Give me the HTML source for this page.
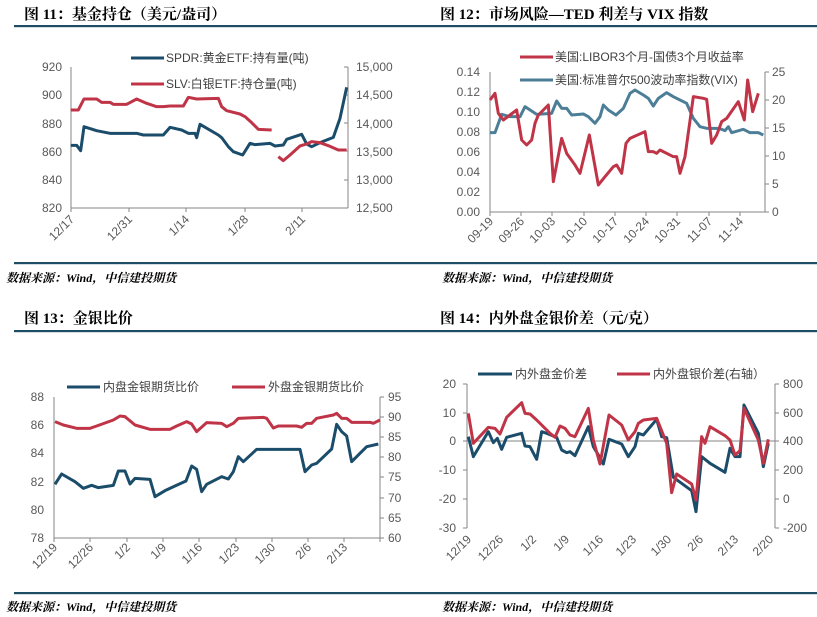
<!DOCTYPE html>
<html><head><meta charset="utf-8"><style>
html,body{margin:0;padding:0;background:#fff;}
svg{display:block;font-family:"Liberation Sans","Noto Sans CJK SC",sans-serif;}
.t{font-weight:bold;font-size:15px;fill:#000;font-family:"Liberation Serif","Noto Serif CJK SC","Noto Sans CJK SC",serif;}
.s{font-weight:bold;font-style:italic;font-size:12px;fill:#000;font-family:"Liberation Serif","Noto Serif CJK SC","Noto Sans CJK SC",serif;}
.l{font-size:12px;fill:#595959;}
.lg{font-size:12px;fill:#404040;}
.ax{stroke:#868686;stroke-width:1;fill:none;}
.b{fill:none;stroke:#1b4d6b;stroke-width:9;stroke-linejoin:round;}
.r{fill:none;stroke:#c03447;stroke-width:9;stroke-linejoin:round;}
.v{fill:none;stroke:#4d7e98;stroke-width:9;stroke-linejoin:round;}
</style></head><body>
<svg width="817" height="617" viewBox="0 0 817 617">
<!-- rules -->
<rect x="14" y="25" width="803" height="2.2" fill="#1e4d66"/>
<rect x="14" y="262" width="803" height="2.2" fill="#1e4d66"/>
<rect x="14" y="330" width="803" height="2.2" fill="#1e4d66"/>
<rect x="14" y="592" width="803" height="2.2" fill="#1e4d66"/>
<text class="t" x="24" y="19">图 11：基金持仓（美元/盎司）</text>
<text class="t" x="440" y="19">图 12：市场风险—TED 利差与 VIX 指数</text>
<text class="t" x="24" y="323">图 13：金银比价</text>
<text class="t" x="440" y="323">图 14：内外盘金银价差（元/克）</text>
<text class="s" x="6" y="282">数据来源：Wind，中信建投期货</text>
<text class="s" x="442" y="282">数据来源：Wind，中信建投期货</text>
<text class="s" x="6" y="611">数据来源：Wind，中信建投期货</text>
<text class="s" x="442" y="611">数据来源：Wind，中信建投期货</text>

<!-- Chart 11 -->
<path class="ax" d="M71 67V208H348M348 67V208M71 208v4M129 208v4M186 208v4M245 208v4M302 208v4M344 67h4M344 95h4M344 123h4M344 151h4M344 180h4M344 208h4"/>
<g class="l" text-anchor="end">
<text x="62" y="71">920</text><text x="62" y="99">900</text><text x="62" y="128">880</text><text x="62" y="156">860</text><text x="62" y="184">840</text><text x="62" y="212">820</text>
</g>
<g class="l">
<text x="356" y="71">15,000</text><text x="356" y="99">14,500</text><text x="356" y="128">14,000</text><text x="356" y="156">13,500</text><text x="356" y="184">13,000</text><text x="356" y="212">12,500</text>
</g>
<g class="l" text-anchor="end">
<text transform="translate(75,220) rotate(-45)">12/17</text>
<text transform="translate(133,220) rotate(-45)">12/31</text>
<text transform="translate(190,220) rotate(-45)">1/14</text>
<text transform="translate(249,220) rotate(-45)">1/28</text>
<text transform="translate(306,220) rotate(-45)">2/11</text>
</g>
<line x1="131" y1="58" x2="164" y2="58" stroke="#1b4d6b" stroke-width="3"/>
<text class="lg" x="166" y="62">SPDR:黄金ETF:持有量(吨)</text>
<line x1="131" y1="84" x2="164" y2="84" stroke="#c03447" stroke-width="3"/>
<text class="lg" x="166" y="88">SLV:白银ETF:持仓量(吨)</text>
<g transform="scale(0.33333)">
<polyline class="b" points="212,436 230,436 242,452 252,380 290,392 330,400 410,400 430,405 490,405 510,382 545,390 565,400 585,400 590,413 600,373 655,405 665,413 685,440 700,455 728,465 750,430 765,434 810,430 825,438 850,435 860,418 905,403 920,432 935,440 960,428 1000,412 1020,355 1040,262"/>
<polyline class="r" points="212,330 235,330 252,297 290,297 305,307 330,307 340,313 380,313 410,297 440,310 470,320 490,320 510,318 550,318 565,292 590,297 655,295 665,320 680,332 720,342 735,350 755,368 775,388 815,390"/>
<polyline class="r" points="835,470 850,482 870,465 900,438 920,432 935,425 960,428 985,437 1015,450 1040,450"/>
</g>

<!-- Chart 12 -->
<path class="ax" d="M490 72V212H765M765 72V212M490 212v4M521 212v4M552 212v4M584 212v4M615 212v4M646 212v4M677 212v4M709 212v4M740 212v4M765 72h4M765 100h4M765 128h4M765 156h4M765 184h4M765 212h4"/>
<g class="l" text-anchor="end">
<text x="480" y="76">0.14</text><text x="480" y="96">0.12</text><text x="480" y="116">0.10</text><text x="480" y="136">0.08</text><text x="480" y="156">0.06</text><text x="480" y="176">0.04</text><text x="480" y="196">0.02</text><text x="480" y="216">0.00</text>
</g>
<g class="l">
<text x="772" y="76">25</text><text x="772" y="104">20</text><text x="772" y="132">15</text><text x="772" y="160">10</text><text x="772" y="188">5</text><text x="772" y="216">0</text>
</g>
<g class="l" text-anchor="end" font-size="11">
<text transform="translate(494,222) rotate(-45)">09-19</text>
<text transform="translate(525,222) rotate(-45)">09-26</text>
<text transform="translate(556,222) rotate(-45)">10-03</text>
<text transform="translate(588,222) rotate(-45)">10-10</text>
<text transform="translate(619,222) rotate(-45)">10-17</text>
<text transform="translate(650,222) rotate(-45)">10-24</text>
<text transform="translate(681,222) rotate(-45)">10-31</text>
<text transform="translate(713,222) rotate(-45)">11-07</text>
<text transform="translate(744,222) rotate(-45)">11-14</text>
</g>
<line x1="520" y1="57" x2="553" y2="57" stroke="#c03447" stroke-width="3"/>
<text class="lg" x="555" y="61" font-size="11.5">美国:LIBOR3个月-国债3个月收益率</text>
<line x1="520" y1="80" x2="553" y2="80" stroke="#4d7e98" stroke-width="3"/>
<text class="lg" x="555" y="84" font-size="11.5">美国:标准普尔500波动率指数(VIX)</text>
<g transform="translate(410,0) scale(0.33333)">
<polyline class="v" points="240,398 255,398 275,343 300,350 330,350 345,320 380,343 425,340 440,303 455,325 470,325 485,345 520,342 535,350 555,370 570,350 580,315 595,330 618,345 640,325 660,280 675,270 700,285 715,295 730,318 745,295 770,278 790,290 830,310 850,355 870,380 890,385 920,385 935,388 945,392 955,380 965,398 1000,388 1020,398 1045,398 1060,405"/>
<polyline class="r" points="240,300 255,280 265,340 280,360 300,345 320,330 335,420 350,435 365,420 375,370 385,345 415,315 430,545 455,415 470,460 495,495 510,520 538,405 565,555 585,530 610,500 620,495 635,520 648,430 660,415 705,395 715,455 730,455 740,460 750,450 790,470 800,470 810,520 825,470 850,290 880,295 890,298 905,430 920,405 935,365 950,355 985,305 1003,360 1013,240 1028,335 1045,280"/>
</g>

<!-- Chart 13 -->
<path class="ax" d="M54 397V538H380M380 397V538M54 538v4M90 538v4M127 538v4M163 538v4M199 538v4M236 538v4M272 538v4M308 538v4M344 538v4M380 538v4M380 397h4M380 417h4M380 437h4M380 457h4M380 477h4M380 498h4M380 518h4M380 538h4"/>
<g class="l" text-anchor="end">
<text x="44" y="401">88</text><text x="44" y="429">86</text><text x="44" y="457">84</text><text x="44" y="486">82</text><text x="44" y="514">80</text><text x="44" y="542">78</text>
</g>
<g class="l">
<text x="388" y="401">95</text><text x="388" y="421">90</text><text x="388" y="441">85</text><text x="388" y="461">80</text><text x="388" y="481">75</text><text x="388" y="502">70</text><text x="388" y="522">65</text><text x="388" y="542">60</text>
</g>
<g class="l" text-anchor="end">
<text transform="translate(58,548) rotate(-45)">12/19</text>
<text transform="translate(94,548) rotate(-45)">12/26</text>
<text transform="translate(131,548) rotate(-45)">1/2</text>
<text transform="translate(167,548) rotate(-45)">1/9</text>
<text transform="translate(203,548) rotate(-45)">1/16</text>
<text transform="translate(240,548) rotate(-45)">1/23</text>
<text transform="translate(276,548) rotate(-45)">1/30</text>
<text transform="translate(312,548) rotate(-45)">2/6</text>
<text transform="translate(348,548) rotate(-45)">2/13</text>
</g>
<line x1="67" y1="387" x2="100" y2="387" stroke="#1b4d6b" stroke-width="3"/>
<text class="lg" x="103" y="391">内盘金银期货比价</text>
<line x1="232" y1="387" x2="265" y2="387" stroke="#c03447" stroke-width="3"/>
<text class="lg" x="268" y="391">外盘金银期货比价</text>
<g transform="translate(0,300) scale(0.33333)">
<polyline class="b" points="165,553 185,522 225,545 250,565 275,556 295,563 340,556 355,513 375,513 390,552 405,535 450,538 465,590 495,572 525,558 558,543 575,498 590,508 605,575 620,553 665,530 685,537 700,515 715,470 730,485 770,448 900,448 915,515 935,495 950,490 995,447 1010,373 1025,395 1040,408 1055,485 1080,460 1100,440 1135,432"/>
<polyline class="r" points="165,365 190,375 230,385 270,385 290,378 340,360 360,348 375,350 405,375 450,388 480,388 510,388 530,378 560,365 575,372 590,395 620,368 665,370 680,380 700,370 715,355 790,352 800,355 820,384 835,378 890,378 905,382 920,370 935,370 950,355 1000,345 1010,340 1025,355 1040,355 1055,367 1110,367 1120,370 1140,360"/>
</g>

<!-- Chart 14 -->
<path class="ax" d="M467 384V528M463 384h4M463 413h4M463 441h4M463 470h4M463 499h4M463 528h4M775 384V528M775 384h4M775 413h4M775 441h4M775 470h4M775 499h4M775 528h4"/>
<line x1="467" y1="441" x2="775" y2="441" stroke="#868686"/>
<g class="l" text-anchor="end">
<text x="456" y="388">20</text><text x="456" y="417">10</text><text x="456" y="445">0</text><text x="456" y="474">-10</text><text x="456" y="503">-20</text><text x="456" y="532">-30</text>
</g>
<g class="l">
<text x="783" y="388">800</text><text x="783" y="417">600</text><text x="783" y="445">400</text><text x="783" y="474">200</text><text x="783" y="503">0</text><text x="783" y="532">-200</text>
</g>
<g class="l" text-anchor="end">
<text transform="translate(472,540) rotate(-45)">12/19</text>
<text transform="translate(504,540) rotate(-45)">12/26</text>
<text transform="translate(537,540) rotate(-45)">1/2</text>
<text transform="translate(570,540) rotate(-45)">1/9</text>
<text transform="translate(604,540) rotate(-45)">1/16</text>
<text transform="translate(637,540) rotate(-45)">1/23</text>
<text transform="translate(672,540) rotate(-45)">1/30</text>
<text transform="translate(704,540) rotate(-45)">2/6</text>
<text transform="translate(739,540) rotate(-45)">2/13</text>
<text transform="translate(774,540) rotate(-45)">2/20</text>
</g>
<line x1="478" y1="374" x2="512" y2="374" stroke="#1b4d6b" stroke-width="3"/>
<text class="lg" x="515" y="378">内外盘金价差</text>
<line x1="617" y1="374" x2="650" y2="374" stroke="#c03447" stroke-width="3"/>
<text class="lg" x="653" y="378">内外盘银价差(右轴）</text>
<g transform="translate(410,300) scale(0.33333)">
<polyline class="b" points="175,410 190,470 235,395 250,428 262,415 275,448 290,412 335,400 345,438 360,440 380,478 395,395 410,400 440,412 455,450 470,458 480,455 495,467 535,380 550,440 565,465 580,492 597,418 635,432 655,470 675,440 685,400 700,405 740,358 755,410 770,413 790,532 845,572 858,635 875,470 900,490 945,517 960,445 975,470 990,470 1002,315 1045,400 1060,500 1075,430"/>
<polyline class="r" points="175,340 190,430 235,382 255,385 270,402 290,352 335,308 345,340 360,342 380,360 420,400 435,412 450,378 465,385 480,405 495,410 535,325 550,420 570,492 597,345 635,375 655,420 675,395 685,370 700,360 740,355 770,430 785,578 800,522 845,552 858,600 875,410 885,430 900,380 945,407 960,420 975,465 990,452 1002,325 1045,420 1060,490 1075,418"/>
</g>
</svg>
</body></html>
